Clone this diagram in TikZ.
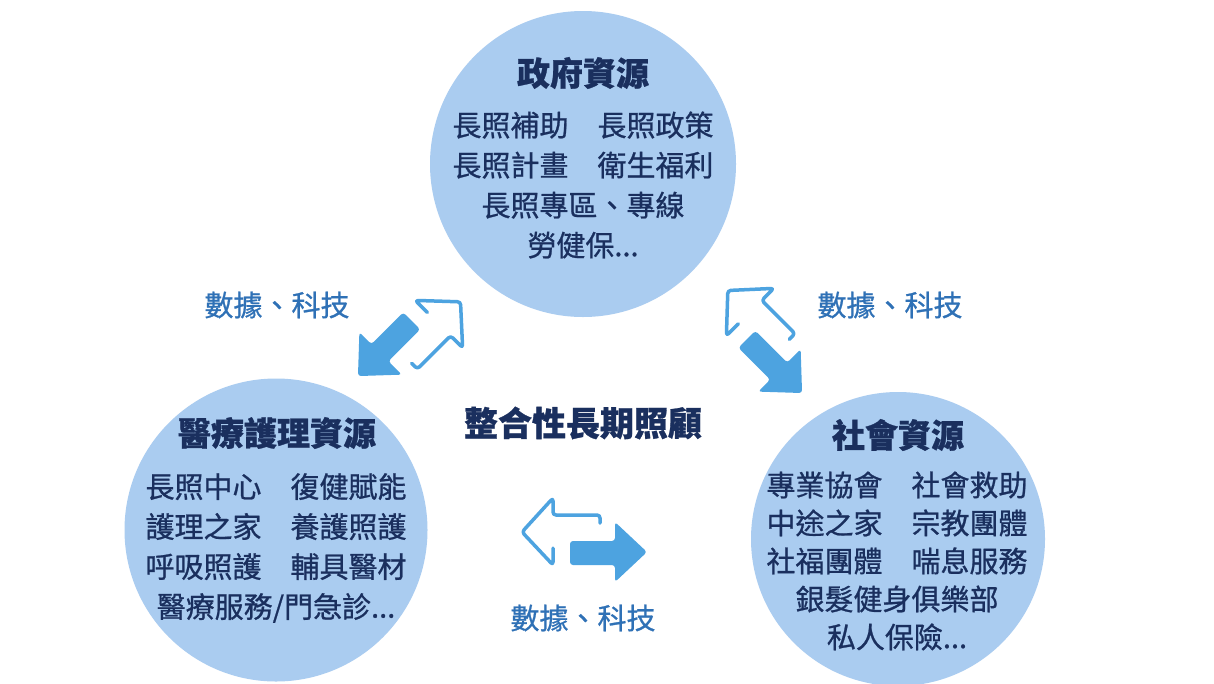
\documentclass[tikz,border=0pt]{standalone}
\usepackage{fontspec}
\setmainfont{Noto Sans CJK TC}
\newfontfamily\bodyfont[FakeBold=0.8]{Noto Sans CJK TC}
\newfontfamily\titlefont[FakeBold=0.8]{Noto Sans CJK TC}
\definecolor{circ}{RGB}{170,204,240}
\definecolor{navy}{RGB}{26,47,94}
\definecolor{lblue}{RGB}{47,113,182}
\definecolor{arrowc}{RGB}{77,163,224}
\tikzset{
  res/.style={circle, fill=circ, inner sep=0pt},
  ttl/.style={text=navy, font=\titlefont\fontsize{33}{40}\selectfont\bfseries, inner sep=0pt},
  body/.style={text=navy, font=\bodyfont\fontsize{29}{40}\selectfont, align=center, inner sep=0pt},
  bodyr/.style={text=navy, font=\bodyfont\fontsize{29}{38}\selectfont, align=center, inner sep=0pt},
  lbl/.style={text=lblue, font=\bodyfont\fontsize{29}{35}\selectfont, inner sep=0pt},
  ctitle/.style={text=navy, font=\titlefont\fontsize{34}{40}\selectfont\bfseries, inner sep=0pt},
  swapicon/.pic={
    \draw[arrowc, line width=3.5pt, line cap=round, line join=round, rounded corners=3pt]
      (-31,8) -- (-31,25) -- (-62,-8) -- (-31,-42) -- (-31,-25) -- (16,-25) -- (16,-17);
    \fill[arrowc, rounded corners=3pt, preaction={draw=white, line width=10pt, line join=round}]
      (-14,1) -- (31,1) -- (31,-18) -- (63,12) -- (31,42) -- (31,25) -- (-14,25) -- cycle;
  }
}
\begin{document}
\begin{tikzpicture}[x=1pt, y=-1pt]
\useasboundingbox[fill=white] (0,0) rectangle (1214,683);
% circles
\node[res, minimum size=306pt] (gov) at (583,164) {};
\node[res, minimum size=303pt] (med) at (276,530) {};
\node[res, minimum size=294pt] (soc) at (898,539) {};
% circle texts
\node[ttl] (govt) at (583,73) {政府資源};
\node[body] (govb) at (583,185) {長照補助　長照政策\\長照計畫　衛生福利\\長照專區、專線\\勞健保...};
\node[ttl] (medt) at (277,433) {醫療護理資源};
\node[body] (medb) at (276,548) {長照中心　復健賦能\\護理之家　養護照護\\呼吸照護　輔具醫材\\醫療服務/門急診...};
\node[ttl] (soct) at (898,435) {社會資源};
\node[bodyr] (socb) at (897,561) {專業協會　社會救助\\中途之家　宗教團體\\社福團體　喘息服務\\銀髮健身俱樂部\\私人保險...};
% center title
\node[ctitle] (center) at (583,423) {整合性長期照顧};
% labels
\node[lbl] (l1) at (277,305) {數據、科技};
\node[lbl] (l2) at (890,305) {數據、科技};
\node[lbl] (l3) at (583,618) {數據、科技};
% exchange icons
\pic[rotate=225] (ic1) at (411,340) {swapicon};
\pic[rotate=-45] (ic2) at (766,340) {swapicon};
\pic (ic3) at (584,540) {swapicon};
\end{tikzpicture}
\end{document}
